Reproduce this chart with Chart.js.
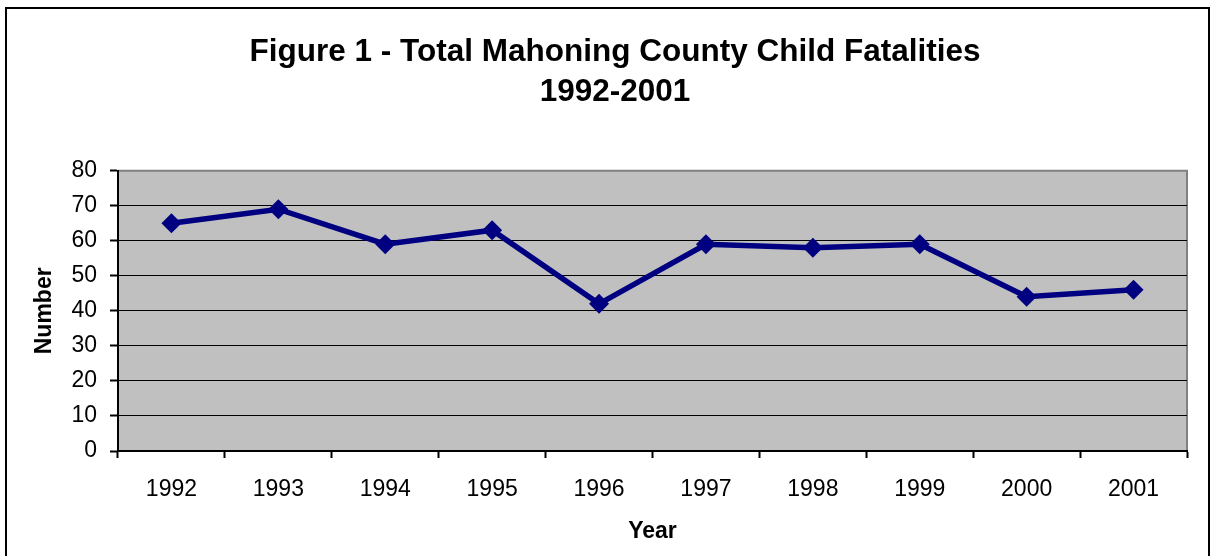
<!DOCTYPE html>
<html>
<head>
<meta charset="utf-8">
<script src="https://cdn.jsdelivr.net/npm/chart.js@4/dist/chart.umd.min.js"></script>
<style>
  html, body { margin: 0; padding: 0; background: #fff; }
  #wrap { width: 1215px; height: 556px; }
</style>
</head>
<body>
<div id="wrap"><canvas id="chart" width="1215" height="556"></canvas></div>
<script>
(function () {
    "use strict";

    const years = ["1992", "1993", "1994", "1995", "1996", "1997", "1998", "1999", "2000", "2001"];
    const fatalities = [65, 69, 59, 63, 42, 59, 58, 59, 44, 46];
    const titleLines = ["Figure 1 - Total Mahoning County Child Fatalities", "1992-2001"];

    const FONT = "Arial, 'Liberation Sans', sans-serif";

    // frame round the whole picture + grey plot area
    const backdrop = {
        id: "backdrop",
        beforeDraw(chart) {
            const { ctx, chartArea: a } = chart;
            ctx.save();
            ctx.fillStyle = "#fff";
            ctx.fillRect(0, 0, chart.width, chart.height);
            ctx.strokeStyle = "#000";
            ctx.lineWidth = 2;
            ctx.strokeRect(6, 8, 1203, 560);
            ctx.fillStyle = "#c0c0c0";
            ctx.fillRect(a.left, a.top, a.right - a.left, a.bottom - a.top);
            ctx.strokeStyle = "#808080";
            ctx.lineWidth = 2;
            ctx.beginPath();
            ctx.moveTo(a.left, a.top);
            ctx.lineTo(a.right, a.top);
            ctx.lineTo(a.right, a.bottom);
            ctx.stroke();
            ctx.restore();
        },
    };

    const ctx = document.getElementById("chart").getContext("2d");

    new Chart(ctx, {
        type: "line",
        data: {
            labels: years,
            datasets: [
                {
                    data: fatalities,
                    borderColor: "#000080",
                    borderWidth: 5.5,
                    tension: 0,
                    pointStyle: "rectRot",
                    pointRadius: 10,
                    pointHoverRadius: 10,
                    pointBackgroundColor: "#000080",
                    pointBorderColor: "#000080",
                    pointBorderWidth: 0,
                },
            ],
        },
        options: {
            responsive: false,
            animation: false,
            layout: {
                // left/right chosen so the title centres at x=615 like the original
                padding: { left: 43, right: 28, top: 0, bottom: 0 },
            },
            plugins: {
                legend: { display: false },
                tooltip: { enabled: false },
                title: {
                    display: true,
                    text: titleLines,
                    color: "#000",
                    font: { family: FONT, size: 31.5, weight: "bold", lineHeight: 1.28 },
                    padding: { top: 32, bottom: 58 },
                },
            },
            scales: {
                x: {
                    offset: true,
                    afterFit(scale) {
                        scale.height = 105;
                    },
                    grid: {
                        offset: true,
                        drawOnChartArea: false,
                        drawTicks: true,
                        tickLength: 7,
                        tickColor: "#000",
                        tickWidth: 2,
                    },
                    border: { display: true, color: "#000", width: 2 },
                    ticks: {
                        color: "#000",
                        padding: 18,
                        font: { family: FONT, size: 23 },
                        maxRotation: 0,
                    },
                    title: {
                        display: true,
                        text: "Year",
                        color: "#000",
                        font: { family: FONT, size: 23, weight: "bold" },
                        padding: { top: 0, bottom: 11 },
                    },
                },
                y: {
                    min: 0,
                    max: 80,
                    afterFit(scale) {
                        scale.width = 75;
                    },
                    grid: {
                        color: (c) => (c.tick && c.tick.value === 80 ? "#808080" : "#000"),
                        lineWidth: 1,
                        drawTicks: true,
                        tickLength: 8,
                        tickColor: "#000",
                        tickWidth: 2,
                    },
                    border: { display: true, color: "#000", width: 2 },
                    ticks: {
                        stepSize: 10,
                        color: "#000",
                        padding: 13,
                        font: { family: FONT, size: 23 },
                    },
                    title: {
                        display: true,
                        text: "Number",
                        color: "#000",
                        font: { family: FONT, size: 23, weight: "bold" },
                        padding: { top: -12, bottom: 0 },
                    },
                },
            },
        },
        plugins: [backdrop],
    });
})();
</script>
</body>
</html>
